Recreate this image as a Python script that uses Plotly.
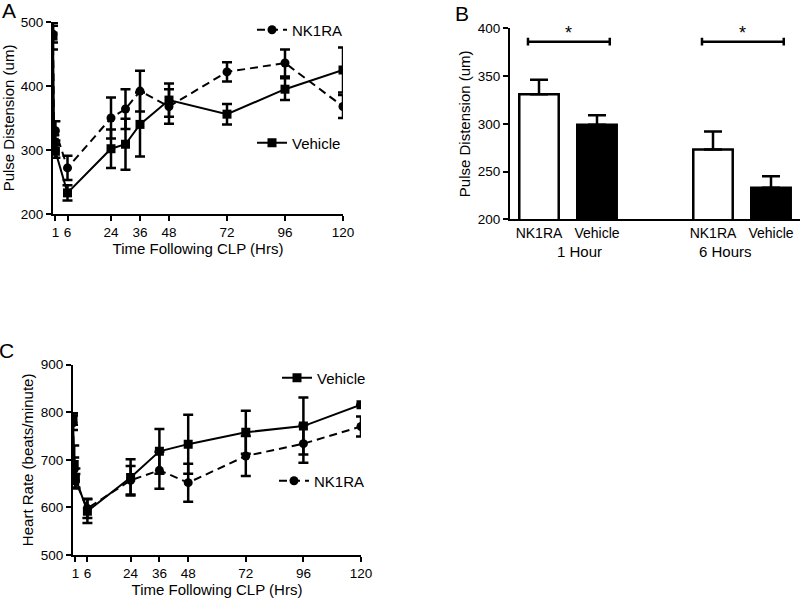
import plotly.graph_objects as go

# ---------------- data ----------------
# Panel A: pulse distension over time
times_A = [0, 0.5, 1, 6, 24, 30, 36, 48, 72, 96, 120]
nk1ra_A = [481, 311, 330, 272, 350, 364, 392, 368, 422, 436, 368]
nk1ra_A_err = [13, 12, 15, 19, 32, 31, 32, 27, 15, 21, 18]
vehicle_A = [478, 312, 298, 233, 302, 309, 340, 378, 356, 395, 425]
vehicle_A_err = [21, 12, 10, 12, 30, 40, 50, 26, 16, 17, 35]

# Panel B: bars
bar_groups = ["1 Hour", "6 Hours"]
bar_labels = ["NK1RA", "Vehicle", "NK1RA", "Vehicle"]
bar_values = [331, 299, 273, 233]
bar_err = [15, 10, 19, 12]

# Panel C: heart rate over time
times_C = [0, 0.5, 1, 6, 24, 36, 48, 72, 96, 120]
vehicle_C = [786, 690, 662, 592, 663, 718, 733, 758, 771, 816]
vehicle_C_err = [12, 40, 20, 25, 38, 47, 62, 45, 60, 0]
nk1ra_C = [778, 680, 655, 598, 657, 678, 652, 708, 734, 770]
nk1ra_C_err = [15, 25, 15, 20, 30, 39, 40, 42, 40, 21]

time_ticks = [1, 6, 24, 36, 48, 72, 96, 120]

# ---------------- figure ----------------
FONT = "Liberation Sans, Arial, sans-serif"
W, H = 800, 600
fig = go.Figure()

def err(arr):
    return dict(type="data", array=arr, visible=True, color="black", thickness=2.5, width=5)

line_nk = dict(color="black", width=2, dash="8px,5px")
line_veh = dict(color="black", width=2)
mk_nk = dict(symbol="circle", size=9, color="black")
mk_veh = dict(symbol="square", size=9, color="black")

# Panel A
fig.add_trace(go.Scatter(x=times_A, y=nk1ra_A, error_y=err(nk1ra_A_err), mode="lines+markers",
                         line=line_nk, marker=mk_nk, name="NK1RA", xaxis="x", yaxis="y",
                         legend="legend"))
fig.add_trace(go.Scatter(x=times_A, y=vehicle_A, error_y=err(vehicle_A_err), mode="lines+markers",
                         line=line_veh, marker=mk_veh, name="Vehicle", xaxis="x", yaxis="y",
                         legend="legend2"))

# Panel B
bar_x = [gi * 3 + m + 1 for gi in range(len(bar_groups)) for m in range(2)]
bar_fill = ["white", "black"] * len(bar_groups)
fig.add_trace(go.Bar(x=bar_x, y=bar_values, width=0.68,
                     marker=dict(color=bar_fill, line=dict(color="black", width=2.5)),
                     error_y=dict(type="data", array=bar_err, arrayminus=[0] * len(bar_err), symmetric=False,
                                  color="black", thickness=2.5, width=9),
                     xaxis="x2", yaxis="y2", showlegend=False))

# Panel C
fig.add_trace(go.Scatter(x=times_C, y=vehicle_C, error_y=err(vehicle_C_err), mode="lines+markers",
                         line=line_veh, marker=mk_veh, name="Vehicle", xaxis="x3", yaxis="y3",
                         legend="legend3"))
fig.add_trace(go.Scatter(x=times_C, y=nk1ra_C, error_y=err(nk1ra_C_err), mode="lines+markers",
                         line=line_nk, marker=mk_nk, name="NK1RA", xaxis="x3", yaxis="y3",
                         legend="legend4"))

axis_common = dict(showline=True, linecolor="black", linewidth=2, ticks="outside", ticklen=5,
                   tickwidth=2, tickcolor="black", showgrid=False, zeroline=False, automargin=False,
                   tickfont=dict(size=13.5, color="black", family=FONT),
                   title_font=dict(size=15, color="black", family=FONT))

fig.update_layout(
    template="none",
    width=W, height=H, margin=dict(l=0, r=0, t=0, b=0, autoexpand=False),
    paper_bgcolor="white", plot_bgcolor="white",
    font=dict(family=FONT, color="black", size=13),
    barmode="overlay",
    xaxis=dict(domain=[53 / W, 343 / W], anchor="y", range=[0, 120], tickvals=time_ticks,
               title=dict(text="Time Following CLP (Hrs)", standoff=2), **axis_common),
    yaxis=dict(domain=[1 - 214 / H, 1 - 22 / H], anchor="x", range=[200, 500], tickvals=[200, 300, 400, 500],
               title=dict(text="Pulse Distension (um)", standoff=4), **axis_common),
    xaxis2=dict(domain=[510 / W, 800 / W], anchor="y2", range=[0.5, 5.5], tickvals=bar_x, ticktext=bar_labels,
                **{**axis_common, "ticks": "", "tickfont": dict(size=14, color="black", family=FONT)}),
    yaxis2=dict(domain=[1 - 219.3 / H, 1 - 28.3 / H], anchor="x2", range=[200, 400],
                tickvals=[200, 250, 300, 350, 400],
                title=dict(text="Pulse Distension (um)", standoff=4), **axis_common),
    xaxis3=dict(domain=[73 / W, 361 / W], anchor="y3", range=[0, 120], tickvals=time_ticks,
                title=dict(text="Time Following CLP (Hrs)", standoff=2), **axis_common),
    yaxis3=dict(domain=[1 - 555 / H, 1 - 364.7 / H], anchor="x3", range=[500, 900],
                tickvals=[500, 600, 700, 800, 900],
                title=dict(text="Heart Rate (beats/minute)", standoff=4), **axis_common),
)

leg_common = dict(bgcolor="rgba(0,0,0,0)", borderwidth=0, font=dict(size=15, color="black", family=FONT),
                  xanchor="left", yanchor="middle", itemwidth=30)
fig.update_layout(
    legend=dict(x=252 / W, y=1 - 30 / H, **leg_common),
    legend2=dict(x=252 / W, y=1 - 143 / H, **leg_common),
    legend3=dict(x=277 / W, y=1 - 378 / H, **leg_common),
    legend4=dict(x=274 / W, y=1 - 481 / H, **leg_common),
)

# significance brackets in panel B
sig_y = 386
for gi in range(len(bar_groups)):
    x0 = bar_x[gi * 2] - 0.19
    x1 = bar_x[gi * 2 + 1] + 0.22
    fig.add_shape(type="line", xref="x2", yref="y2", x0=x0, x1=x1, y0=sig_y, y1=sig_y,
                  line=dict(color="black", width=2.5))
    for xx in (x0, x1):
        fig.add_shape(type="line", xref="x2", yref="y2", x0=xx, x1=xx, y0=sig_y - 4, y1=sig_y + 4,
                      line=dict(color="black", width=2.5))
    fig.add_annotation(x=(x0 + x1) / 2, y=sig_y - 3, xref="x2", yref="y2", text="*", showarrow=False,
                       xanchor="center", yanchor="bottom", font=dict(size=18, color="black", family=FONT))

# group labels for panel B
group_x = [1.70, 4.22]
for gx, g in zip(group_x, bar_groups):
    fig.add_annotation(x=gx, y=1 - 251 / H, xref="x2", yref="paper", text=g, showarrow=False,
                       xanchor="center", yanchor="middle", font=dict(size=15, color="black", family=FONT))

# panel letters
for letter, px, py in [("A", 9, 11), ("B", 462, 13), ("C", 6, 350)]:
    fig.add_annotation(x=px / W, y=1 - py / H, xref="paper", yref="paper", text=letter, showarrow=False,
                       xanchor="center", yanchor="middle", font=dict(size=21, color="black", family=FONT))

fig.write_html("out.html", config={"displayModeBar": False},
               post_script="document.body.style.margin='0';document.body.style.overflow='hidden';")
